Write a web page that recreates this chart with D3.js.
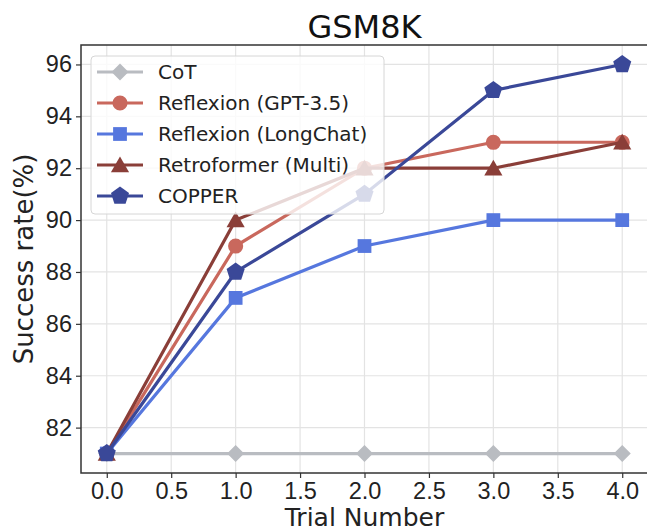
<!DOCTYPE html>
<html>
<head>
<meta charset="utf-8">
<script src="https://cdn.jsdelivr.net/npm/d3@7"></script>
<style>
  body { margin: 0; background: #fff; }
  svg { font-family: "DejaVu Sans", sans-serif; }
</style>
</head>
<body>
<div id="chart"></div>
<script>
// data
var trials = [0, 1, 2, 3, 4];
var cot = [81, 81, 81, 81, 81];
var reflexionGpt = [81, 89, 92, 93, 93];
var reflexionLong = [81, 87, 89, 90, 90];
var retroformer = [81, 90, 92, 92, 93];
var copper = [81, 88, 91, 95, 96];
var xTicks = [0, 0.5, 1, 1.5, 2, 2.5, 3, 3.5, 4];
var yTicks = [82, 84, 86, 88, 90, 92, 94, 96];

var series = [
  { name: "CoT", values: cot, color: "#b9bcc1", symbol: "diamond" },
  { name: "Reflexion (GPT-3.5)", values: reflexionGpt, color: "#c9685d", symbol: "circle" },
  { name: "Reflexion (LongChat)", values: reflexionLong, color: "#5677de", symbol: "square" },
  { name: "Retroformer (Multi)", values: retroformer, color: "#8a3e38", symbol: "triangle" },
  { name: "COPPER", values: copper, color: "#3a4898", symbol: "pentagon" }
];

var W = 647, H = 532;
var pL = 81, pR = 648, pT = 45, pB = 473;

var svg = d3.select("#chart").append("svg")
  .attr("width", W)
  .attr("height", H);

var x = d3.scaleLinear().domain([-0.2, 4.2]).range([pL, pR]);
var y = d3.scaleLinear().domain([80.25, 96.75]).range([pB, pT]);

// grid
svg.append("g").selectAll("line")
  .data(xTicks).enter().append("line")
  .attr("x1", d => x(d)).attr("x2", d => x(d))
  .attr("y1", pT).attr("y2", pB)
  .attr("stroke", "#e3e3e3").attr("stroke-width", 1.2);
svg.append("g").selectAll("line")
  .data(yTicks).enter().append("line")
  .attr("x1", pL).attr("x2", pR)
  .attr("y1", d => y(d)).attr("y2", d => y(d))
  .attr("stroke", "#e3e3e3").attr("stroke-width", 1.2);

// axes
var xAxis = svg.append("g")
  .attr("transform", "translate(0," + pB + ")")
  .call(d3.axisBottom(x).tickValues(xTicks).tickFormat(d3.format(".1f")).tickSize(5).tickPadding(4));
var yAxis = svg.append("g")
  .attr("transform", "translate(" + pL + ",0)")
  .call(d3.axisLeft(y).tickValues(yTicks).tickFormat(d3.format("d")).tickSize(5).tickPadding(4));

[xAxis, yAxis].forEach(function (a) {
  a.select(".domain").remove();
  a.selectAll("line").attr("stroke", "#333").attr("stroke-width", 1.2);
  a.selectAll("text").attr("fill", "#222").style("font-size", "23.5px");
});

// frame
svg.append("rect")
  .attr("x", pL).attr("y", pT)
  .attr("width", pR - pL).attr("height", pB - pT)
  .attr("fill", "none").attr("stroke", "#333").attr("stroke-width", 1.5);

function polyPath(n, r, rot) {
  var pts = [];
  for (var i = 0; i < n; i++) {
    var a = rot + i * 2 * Math.PI / n;
    pts.push([r * Math.cos(a), r * Math.sin(a)]);
  }
  return "M" + pts.map(p => p.join(",")).join("L") + "Z";
}

function markerPath(sym) {
  if (sym == "pentagon") return polyPath(5, 9.5, -Math.PI / 2);
  if (sym == "diamond") return polyPath(4, 8.5, -Math.PI / 2);
  if (sym == "circle") return d3.symbol().type(d3.symbolCircle).size(180)();
  if (sym == "square") return d3.symbol().type(d3.symbolSquare).size(190)();
  if (sym == "triangle") return polyPath(3, 10.5, -Math.PI / 2);
}

var line = d3.line()
  .x((d, i) => x(trials[i]))
  .y(d => y(d));

series.forEach(function (s) {
  var g = svg.append("g");
  g.append("path")
    .attr("d", line(s.values))
    .attr("fill", "none")
    .attr("stroke", s.color)
    .attr("stroke-width", 3.2);
  g.selectAll("path.m")
    .data(s.values).enter().append("path")
    .attr("class", "m")
    .attr("d", markerPath(s.symbol))
    .attr("transform", (d, i) => "translate(" + x(trials[i]) + "," + (y(d) + (s.symbol == "triangle" ? 2 : 0)) + ")")
    .attr("fill", s.color);
});

// legend
var lg = svg.append("g").attr("transform", "translate(91,56)");
lg.append("rect")
  .attr("width", 293).attr("height", 158).attr("rx", 4)
  .attr("fill", "#fff").attr("fill-opacity", 0.8)
  .attr("stroke", "#d6d6d6").attr("stroke-width", 1);

series.forEach(function (s, i) {
  var ly = 16 + i * 31;
  var it = lg.append("g").attr("transform", "translate(0," + ly + ")");
  it.append("line")
    .attr("x1", 6).attr("x2", 52)
    .attr("stroke", s.color).attr("stroke-width", 3.2);
  it.append("path")
    .attr("d", markerPath(s.symbol))
    .attr("transform", "translate(29," + (s.symbol == "triangle" ? 2 : 0) + ")")
    .attr("fill", s.color);
  it.append("text")
    .attr("x", 67).attr("y", 7)
    .attr("fill", "#222")
    .style("font-size", "20px")
    .text(s.name);
});

// title and labels
svg.append("text")
  .attr("x", (pL + pR) / 2).attr("y", 38)
  .attr("text-anchor", "middle")
  .attr("fill", "#111")
  .style("font-size", "32px")
  .text("GSM8K");

svg.append("text")
  .attr("x", (pL + pR) / 2).attr("y", 526)
  .attr("text-anchor", "middle")
  .attr("fill", "#222")
  .style("font-size", "25px")
  .text("Trial Number");

svg.append("text")
  .attr("transform", "translate(33," + ((pT + pB) / 2) + ") rotate(-90)")
  .attr("text-anchor", "middle")
  .attr("fill", "#222")
  .style("font-size", "26px")
  .text("Success rate(%)");
</script>
</body>
</html>
